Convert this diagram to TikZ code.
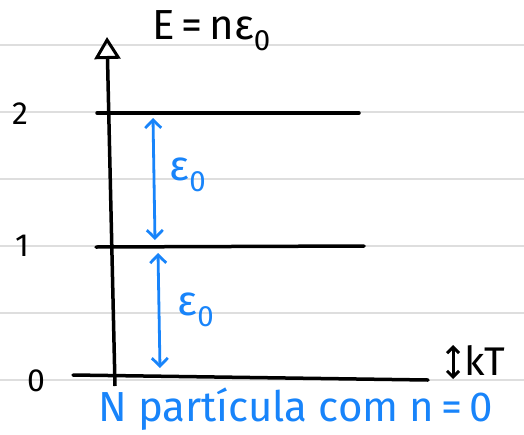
\documentclass[tikz,border=0pt]{standalone}
\usepackage{fontspec}
\setmainfont{Fira Sans}
\usepackage{xcolor}
\usepackage{tikz}
\usetikzlibrary{arrows.meta, positioning}

\definecolor{penblue}{RGB}{24,132,250}
\definecolor{rulegray}{RGB}{222,222,222}

\begin{document}
\begin{tikzpicture}[x=1pt, y=-1pt,
			rule/.style={draw=rulegray, line width=1.5pt},
			level/.style={draw, line width=3.5pt, line cap=round},
			gap/.style={draw=penblue, line width=2.8pt, {Straight Barb[length=8pt, width=16pt]}-{Straight Barb[length=8pt, width=16pt]}},
			num/.style={font=\fontsize{32}{32}\selectfont},
			hand/.style={font=\fontsize{42}{42}\selectfont, inner sep=0pt}]
			\useasboundingbox (0,0) rectangle (524,434);
			\foreach \y in {45,112,179,246,313,380}
				\draw[rule] (0,\y) -- (524,\y);
			% eixo de energia
			\coordinate (base) at (115,386);
			\coordinate (tip) at (107,37);
			\draw[line width=3.5pt, -{Triangle[open, length=22pt, width=26pt, line width=3pt]}] (base) -- (tip);
			\node[hand, anchor=west] (title) at (152,31) {E\,=\,nε\textsubscript{0}};
			% niveis
			\coordinate (l2a) at (97,113);
			\coordinate (l2b) at (359,113);
			\coordinate (l1a) at (96,247);
			\coordinate (l1b) at (364,246);
			\coordinate (l0a) at (73,375);
			\coordinate (l0b) at (428,380);
			\draw[level] (l2a) -- (l2b);
			\draw[level] (l1a) -- (l1b);
			\draw[level] (l0a) -- (l0b);
			\node[num] (n2) at (20,114) {2};
			\node[num] (n1) at (22,246) {1};
			\node[num] (n0) at (36,381) {0};
			% espacamento
			\coordinate (g2t) at (153,118);
			\coordinate (g2b) at (155,240);
			\coordinate (g1t) at (158,253);
			\coordinate (g1b) at (160,368);
			\draw[gap] (g2t) -- (g2b);
			\draw[gap] (g1t) -- (g1b);
			\node[hand, text=penblue] (e2) at (188,175) {ε\textsubscript{0}};
			\node[hand, text=penblue] (e1) at (196,310) {ε\textsubscript{0}};
			% kT
			\node[hand, font=\fontsize{40}{40}\selectfont, anchor=west] (kt) at (464,360) {kT};
			\coordinate (kta) at (453,345);
			\coordinate (ktb) at (453,379);
			\draw[line width=3pt, {Straight Barb[length=6pt, width=12pt]}-{Straight Barb[length=6pt, width=12pt]}] (kta) -- (ktb);
			\node[hand, text=penblue, anchor=west] (npart) at (98,409) {N partícula com n\,=\,0};
		\end{tikzpicture}
\end{document}
